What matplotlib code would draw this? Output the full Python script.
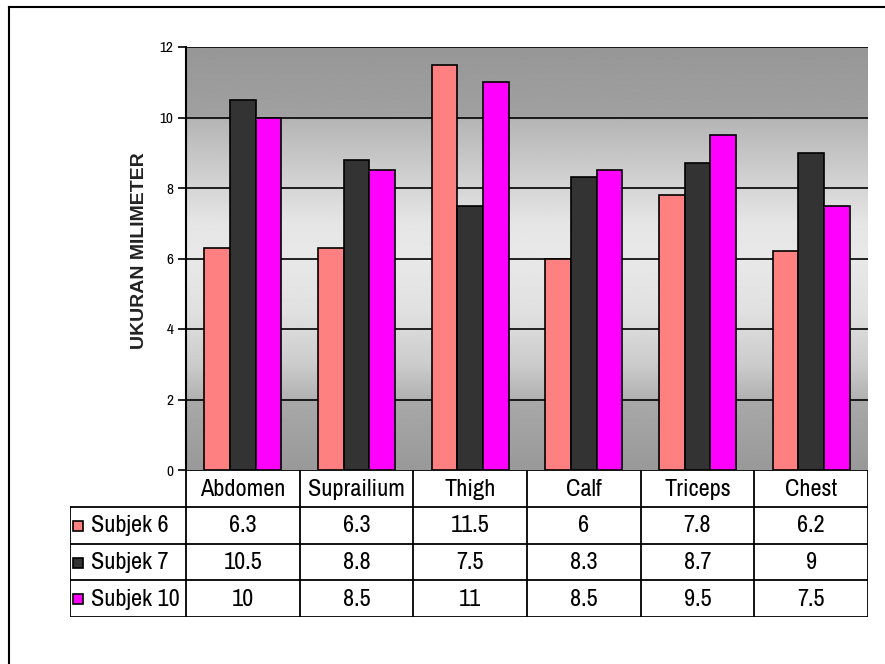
import matplotlib
matplotlib.use("Agg")
import matplotlib.pyplot as plt
import numpy as np
from matplotlib import font_manager

# skinfold readings per site (mm)
sites = ["Abdomen", "Suprailium", "Thigh", "Calf", "Triceps", "Chest"]
subjects = ["Subjek 6", "Subjek 7", "Subjek 10"]
subjek_6 = [6.3, 6.3, 11.5, 6, 7.8, 6.2]
subjek_7 = [10.5, 8.8, 7.5, 8.3, 8.7, 9]
subjek_10 = [10, 8.5, 11, 8.5, 9.5, 7.5]
yticks = [0, 2, 4, 6, 8, 10, 12]
ylabel = "UKURAN MILIMETER"

series = [subjek_6, subjek_7, subjek_10]
colors = ["#ff8080", "#333333", "#ff00ff"]


def pick_font():
    """Prefer a narrow sans face; fall back to a plain one drawn smaller."""
    fonts = font_manager.fontManager.ttflist
    for f in fonts:
        if "Narrow" in f.name or "narrow" in f.fname.lower():
            return f.name, f.stretch, 1.0
    for f in fonts:
        if f.name == "DejaVu Sans" and "condensed" in f.fname.lower():
            return f.name, "condensed", 0.93
    return "Liberation Sans", "normal", 0.8


FONT, STRETCH, SCALE = pick_font()
plt.rcParams["font.family"] = [FONT, "DejaVu Sans"]
plt.rcParams["font.stretch"] = STRETCH

W, H = 885, 664
fig = plt.figure(figsize=(W / 100, H / 100), dpi=100)


def fx(px):
    return px / W


def fy(py):
    return 1 - py / H


# outer frame
fig.add_artist(plt.Line2D([fx(9), 1], [fy(7), fy(7)], color="black", lw=1.5))
fig.add_artist(plt.Line2D([fx(9), fx(9)], [fy(7), 0], color="black", lw=1.5))

# plot area
left, right, top, bottom = 186, 868, 47, 470
ax = fig.add_axes([fx(left), fy(bottom), fx(right - left), (bottom - top) / H])
n = len(sites)
ax.set_xlim(-0.5, n - 0.5)
ax.set_ylim(0, 12)

# banded grey gradient behind the bars
yy = np.linspace(0, 12, 600)
shade = np.interp(yy, [0, 1.95, 2.05, 3, 4.5, 6, 7, 9.95, 10.05, 12],
                  [0.60, 0.66, 0.70, 0.80, 0.88, 0.91, 0.90, 0.71, 0.63, 0.59])
ax.imshow(shade[:, None], extent=[-0.5, n - 0.5, 0, 12], origin="lower",
          cmap="gray", vmin=0, vmax=1, aspect="auto", zorder=0)

for t in yticks[1:]:
    ax.axhline(t, color="black", lw=1.2, zorder=1)

x = np.arange(n)
bw = 0.225
for k, (vals, c) in enumerate(zip(series, colors)):
    ax.bar(x + (k - 1) * bw, vals, width=bw, color=c, edgecolor="black",
           linewidth=1.2, zorder=3)

ax.set_xticks([])
ax.set_yticks(yticks)
ax.set_yticklabels([str(t) for t in yticks], fontsize=11 * SCALE)
ax.tick_params(axis="y", direction="out", length=6, width=1.2, pad=3)
for s in ["top", "right", "bottom"]:
    ax.spines[s].set_visible(False)
ax.spines["left"].set_linewidth(1.5)

# axis title in a regular-width bold face
fig.text(fx(139), fy(251), ylabel, rotation=90, ha="center", va="center",
         fontsize=14, fontweight="bold", family=["Liberation Sans", "DejaVu Sans"],
         fontstretch="normal", color="#222222")

# data table under the plot
tleft, tbottom = 70, 617
colw = (right - left) / n
tax = fig.add_axes([fx(tleft), fy(tbottom), fx(right - tleft), (tbottom - bottom) / H])
x0 = -0.5 - (left - tleft) / colw
tax.set_xlim(x0, n - 0.5)
tax.set_ylim(4, 0)
tax.axis("off")


def dx(px):
    return -0.5 + (px - left) / colw


fs = 17.5 * SCALE
lk = dict(color="black", lw=1.3, solid_capstyle="projecting")
tax.plot([-0.5, n - 0.5], [0, 0], **lk)
for r in range(1, 5):
    tax.plot([x0, n - 0.5], [r, r], **lk)
tax.plot([x0, x0], [1, 4], **lk)
for e in np.arange(-0.5, n, 1.0):
    tax.plot([e, e], [0, 4], **lk)

for i, s in enumerate(sites):
    tax.text(i, 0.52, s, ha="center", va="center", fontsize=fs)
for r, (name, vals, c) in enumerate(zip(subjects, series, colors)):
    yc = r + 1.52
    tax.plot([dx(78)], [yc], marker="s", ms=7, mfc=c, mec="black", mew=1.2)
    tax.text(dx(91), yc, name, ha="left", va="center", fontsize=fs)
    for i, v in enumerate(vals):
        tax.text(i, yc, f"{v:g}", ha="center", va="center", fontsize=fs)

fig.savefig("out.png", dpi=100)
